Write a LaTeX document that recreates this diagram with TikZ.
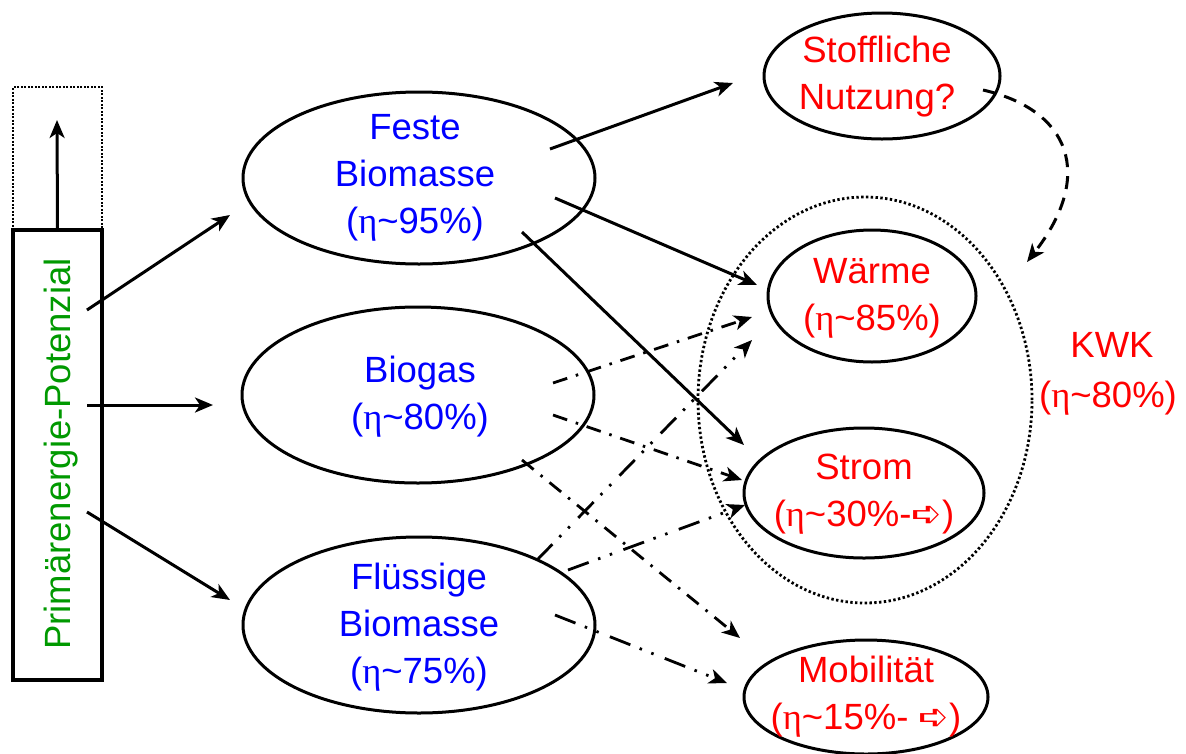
\documentclass[tikz,border=0pt]{standalone}
\usepackage{fontspec}
\setmainfont{Liberation Sans}
\newfontfamily\tms{Liberation Serif}
\newfontfamily\dvs{DejaVu Sans}
\usetikzlibrary{shapes.geometric,arrows.meta}
\definecolor{tblue}{RGB}{0,0,255}
\definecolor{tred}{RGB}{255,0,0}
\definecolor{tgreen}{RGB}{0,153,0}
\newcommand{\etatil}{{\tms η}\textasciitilde}
\begin{document}
\begin{tikzpicture}[x=1pt,y=-1pt,
  ell/.style={draw, ellipse, line width=3pt, inner sep=0pt},
  lbl/.style={font=\fontsize{36.5}{47}\selectfont, align=center, inner sep=0pt},
  arr/.style={line width=3pt, -{Stealth[length=18pt,width=15pt,inset=5pt]}},
  dd/.style={arr, line width=2.8pt, dash pattern=on 15pt off 9pt on 2.5pt off 9pt},
  ddd/.style={arr, line width=2.8pt, dash pattern=on 22pt off 10pt on 2.5pt off 10pt on 2.5pt off 12pt},
  dsh/.style={arr, line width=3pt, dash pattern=on 13pt off 9pt},
]
\useasboundingbox (0,0) rectangle (1186,753);

% KWK dotted ellipse
\node[draw, ellipse, line width=2.8pt, dash pattern=on 2.4pt off 2.4pt, minimum width=334, minimum height=406, inner sep=0pt] (kwkell) at (865,400) {};

% left box
\node[draw, line width=2pt, dash pattern=on 2pt off 1.5pt, minimum width=89, minimum height=143, inner sep=0pt] (dotbox) at (57.5,158.5) {};
\node[draw, line width=3.5pt, fill=white, minimum width=89, minimum height=450, inner sep=0pt] (box) at (57.5,455) {};
\node[lbl, rotate=90, text=tgreen] (ptext) at (61,454) {Primärenergie-Potenzial};
\coordinate (uptip) at (57,120);
\draw[arr] (box.north) -- (uptip);

% ellipses
\node[ell, minimum width=352, minimum height=172] (feste) at (419,178) {};
\node[ell, minimum width=352, minimum height=176] (biogas) at (418,395) {};
\node[ell, minimum width=352, minimum height=176] (fluessig) at (419,625) {};
\node[ell, minimum width=236, minimum height=126] (stoff) at (882,76) {};
\node[ell, minimum width=208, minimum height=132] (waerme) at (872,296) {};
\node[ell, minimum width=240, minimum height=130] (strom) at (864,493) {};
\node[ell, minimum width=244, minimum height=114] (mobil) at (866,697) {};

% texts
\node[lbl, text=tblue] (festeT) at (415,178) {Feste\\Biomasse\\(\etatil95\%)};
\node[lbl, text=tblue] (biogasT) at (420,397) {Biogas\\(\etatil80\%)};
\node[lbl, text=tblue] (fluessigT) at (419,627) {Flüssige\\Biomasse\\(\etatil75\%)};
\node[lbl, text=tred] (stoffT) at (877,77) {Stoffliche\\Nutzung?};
\node[lbl, text=tred] (waermeT) at (872,298) {Wärme\\(\etatil85\%)};
\node[lbl, text=tred] (stromT) at (864,494) {Strom\\(\etatil30\%-{\dvs ➪})};
\node[lbl, text=tred] (mobilT) at (866,697) {Mobilität\\(\etatil15\%- {\dvs ➪})};
\node[lbl, text=tred] (kwkT) at (1112,345) {KWK};
\node[lbl, text=tred] (kwkE) at (1108,398) {(\etatil80\%)};

% connector end points
\coordinate (bA) at (87,310);
\coordinate (bB) at (87,405);
\coordinate (bC) at (87,512);
\coordinate (fIn) at (230,215);
\coordinate (gIn) at (213,405);
\coordinate (lIn) at (230,600);

\coordinate (fo1) at (550,149); \coordinate (si1) at (733,83);
\coordinate (fo2) at (555,198); \coordinate (wi1) at (757,285);
\coordinate (fo3) at (522,232); \coordinate (ri1) at (744,445);

\coordinate (go1) at (553,383); \coordinate (wi2) at (752,317);
\coordinate (go2) at (553,415); \coordinate (ri2) at (742,480);
\coordinate (go3) at (522,460); \coordinate (mi1) at (740,638);

\coordinate (lo1) at (537,560); \coordinate (wi3) at (752,340);
\coordinate (lo2) at (568,570); \coordinate (ri3) at (745,505);
\coordinate (lo3) at (555,615); \coordinate (mi2) at (727,683);

\coordinate (so1) at (983,90); \coordinate (ki1) at (1027,262);

% connectors
\draw[arr] (bA) -- (fIn);
\draw[arr] (bB) -- (gIn);
\draw[arr] (bC) -- (lIn);

\draw[arr] (fo1) -- (si1);
\draw[arr] (fo2) -- (wi1);
\draw[arr] (fo3) -- (ri1);

\draw[dd] (go1) -- (wi2);
\draw[dd] (go2) -- (ri2);
\draw[dd] (go3) -- (mi1);

\draw[ddd] (lo1) -- (wi3);
\draw[ddd] (lo2) -- (ri3);
\draw[ddd] (lo3) -- (mi2);

\draw[dsh] (so1) .. controls (1070,110) and (1095,175) .. (ki1);
\end{tikzpicture}
\end{document}
